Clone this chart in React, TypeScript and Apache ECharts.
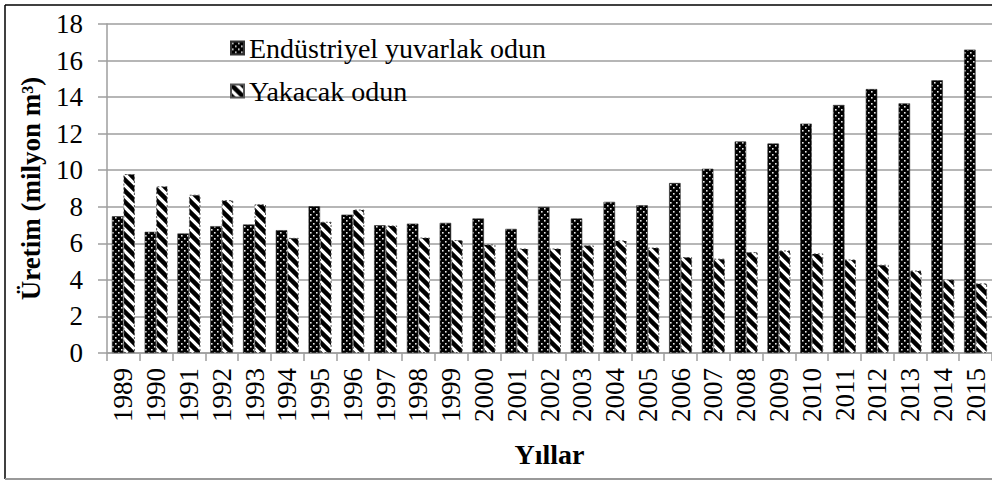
import React, { useEffect, useRef } from "react";
import * as echarts from "echarts";

const years = [
  "1989", "1990", "1991", "1992", "1993", "1994", "1995", "1996", "1997",
  "1998", "1999", "2000", "2001", "2002", "2003", "2004", "2005", "2006",
  "2007", "2008", "2009", "2010", "2011", "2012", "2013", "2014", "2015",
];

const industrialRoundwood = [
  7.48, 6.63, 6.54, 6.94, 7.03, 6.72, 8.03, 7.57, 6.99, 7.08, 7.12, 7.36, 6.79,
  7.99, 7.36, 8.27, 8.08, 9.3, 10.08, 11.57, 11.46, 12.55, 13.57, 14.44, 13.66,
  14.92, 16.6,
];

const fuelwood = [
  9.79, 9.12, 8.66, 8.36, 8.14, 6.3, 7.18, 7.85, 6.98, 6.32, 6.18, 5.94, 5.72,
  5.72, 5.89, 6.16, 5.77, 5.25, 5.16, 5.52, 5.61, 5.45, 5.12, 4.83, 4.51, 4.02,
  3.81,
];

const seriesNames = ["Endüstriyel yuvarlak odun", "Yakacak odun"];
const yTicks = { min: 0, max: 18, interval: 2 };
const yAxisName = "Üretim (milyon m³)";
const xAxisName = "Yıllar";

const FONT = "Liberation Serif";

function makeDotPattern() {
  const c = document.createElement("canvas");
  c.width = 6;
  c.height = 6;
  const g = c.getContext("2d")!;
  g.fillStyle = "#000";
  g.fillRect(0, 0, 6, 6);
  g.fillStyle = "#e8e8e8";
  g.fillRect(1, 1, 1.6, 1.6);
  g.fillRect(4, 4, 1.6, 1.6);
  return { image: c, repeat: "repeat", imageWidth: 6, imageHeight: 6 };
}

function makeHatchPattern() {
  const s = 11;
  const c = document.createElement("canvas");
  c.width = s;
  c.height = s;
  const g = c.getContext("2d")!;
  g.fillStyle = "#fff";
  g.fillRect(0, 0, s, s);
  g.strokeStyle = "#000";
  g.lineWidth = 4.5;
  for (const k of [-s, 0, s]) {
    g.beginPath();
    g.moveTo(-2, -2 + k);
    g.lineTo(s + 2, s + 2 + k);
    g.stroke();
  }
  return { image: c, repeat: "repeat", imageWidth: s, imageHeight: s };
}

export default function App() {
  const ref = useRef<HTMLDivElement>(null);

  useEffect(() => {
    if (!ref.current) return;
    const chart = echarts.init(ref.current, undefined, { renderer: "svg" });
    const dots = makeDotPattern();
    const hatch = makeHatchPattern();
    const gray = "#9e9e9e";

    chart.setOption({
      animation: false,
      backgroundColor: "#fff",
      textStyle: { fontFamily: FONT },
      grid: { left: 107, top: 24, width: 897, height: 329, containLabel: false },
      legend: {
        orient: "vertical",
        left: 225,
        top: 28,
        itemWidth: 13,
        itemHeight: 13,
        itemGap: 13,
        icon: "rect",
        textStyle: { fontFamily: FONT, fontSize: 28, color: "#000", lineHeight: 30 },
        data: seriesNames,
      },
      xAxis: {
        type: "category",
        data: years,
        name: xAxisName,
        nameLocation: "middle",
        nameGap: 87,
        nameTextStyle: { fontFamily: FONT, fontSize: 28, fontWeight: "bold", color: "#000" },
        axisLine: { show: true, lineStyle: { color: gray, width: 1.5 } },
        axisTick: { show: true, length: 8, lineStyle: { color: gray, width: 1.5 } },
        axisLabel: {
          rotate: 90,
          margin: 15,
          fontFamily: FONT,
          fontSize: 27,
          color: "#000",
          interval: 0,
        },
      },
      yAxis: {
        type: "value",
        min: yTicks.min,
        max: yTicks.max,
        interval: yTicks.interval,
        name: yAxisName,
        nameLocation: "middle",
        nameGap: 63,
        nameRotate: 90,
        nameTextStyle: { fontFamily: FONT, fontSize: 27, fontWeight: "bold", color: "#000" },
        axisLine: { show: true, lineStyle: { color: gray, width: 1.5 } },
        axisTick: { show: true, length: 9, lineStyle: { color: gray, width: 1.5 } },
        splitLine: { show: true, lineStyle: { color: gray, width: 1.5 } },
        axisLabel: { margin: 24, fontFamily: FONT, fontSize: 27, color: "#000" },
      },
      series: [
        {
          name: seriesNames[0],
          type: "bar",
          data: industrialRoundwood,
          barWidth: 11.5,
          barGap: "0%",
          itemStyle: { color: dots, borderColor: "#333", borderWidth: 0.6 },
        },
        {
          name: seriesNames[1],
          type: "bar",
          data: fuelwood,
          barWidth: 11.5,
          barGap: "0%",
          itemStyle: {
            color: hatch,
            borderColor: "#555",
            borderWidth: 1,
            borderType: [2, 2],
          },
        },
      ],
      graphic: [
        { type: "line", shape: { x1: 5, y1: 5, x2: 992, y2: 5 }, style: { stroke: "#000", lineWidth: 1.5 } },
        { type: "line", shape: { x1: 5, y1: 5, x2: 5, y2: 479 }, style: { stroke: "#000", lineWidth: 1.5 } },
        { type: "line", shape: { x1: 5, y1: 479, x2: 992, y2: 479 }, style: { stroke: "#999", lineWidth: 2 } },
      ],
    });

    return () => chart.dispose();
  }, []);

  return (
    <div
      ref={ref}
      style={{ position: "fixed", left: 0, top: 0, width: 992, height: 481 }}
    />
  );
}
